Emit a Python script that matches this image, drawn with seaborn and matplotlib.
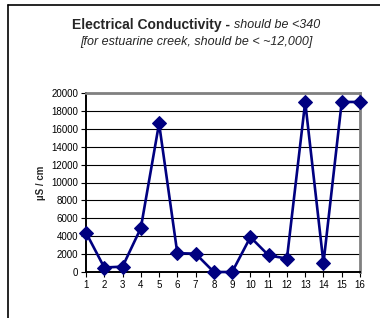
import matplotlib
matplotlib.use("Agg")
import matplotlib.pyplot as plt
import seaborn as sns
import pandas as pd
from matplotlib.lines import Line2D

sites = [1, 2, 3, 4, 5, 6, 7, 8, 9, 10, 11, 12, 13, 14, 15, 16]
conductivity = [4400, 500, 600, 4900, 16600, 2100, 2050, 0, 0, 3900, 1850, 1500, 19000, 1000, 19000, 19000]
y_ticks = [0, 2000, 4000, 6000, 8000, 10000, 12000, 14000, 16000, 18000, 20000]

df = pd.DataFrame({"site": sites, "ec": conductivity})

sns.set_style("white")
plt.rcParams["font.family"] = ["Liberation Sans", "DejaVu Sans"]

W, H = 380, 318
fig = plt.figure(figsize=(W / 100, H / 100), dpi=100)
ax = fig.add_axes([86 / W, (H - 272) / H, (360 - 86) / W, (272 - 93) / H])

sns.lineplot(data=df, x="site", y="ec", ax=ax, color="#000080", linewidth=1.9,
             marker="D", markersize=7, markeredgecolor="#000080",
             markerfacecolor="#000080", clip_on=False, zorder=5)

ax.set_xlim(1, 16)
ax.set_ylim(0, 20000)
ax.set_xticks(sites)
ax.set_xticklabels([str(s) for s in sites])
ax.set_yticks(y_ticks)
ax.set_yticklabels([str(v) for v in y_ticks])
ax.yaxis.grid(True, color="black", linewidth=0.8)
ax.set_axisbelow(True)
ax.tick_params(axis="both", which="both", direction="out", length=3.5, width=0.8,
               labelsize=7, colors="black", pad=2, left=True, bottom=True)
for side in ("left", "bottom"):
    ax.spines[side].set_color("black")
    ax.spines[side].set_linewidth(1.4)
for side in ("top", "right"):
    ax.spines[side].set_visible(True)
    ax.spines[side].set_color("#808080")
    ax.spines[side].set_linewidth(2.0)
ax.set_xlabel("")
ax.set_ylabel("µS / cm", fontsize=7, fontweight="bold", labelpad=4)

# outer frame (left and top edges)
fig.add_artist(Line2D([8 / W, 8 / W], [0, 1 - 5 / H], transform=fig.transFigure, color="black", linewidth=1.2))
fig.add_artist(Line2D([8 / W, 1], [1 - 5 / H, 1 - 5 / H], transform=fig.transFigure, color="black", linewidth=1.2))

# title line 1: bold part + italic part, centered together
y1 = 1 - 25.5 / H
t1 = fig.text(0, y1, "Electrical Conductivity - ", fontsize=10, fontweight="bold", va="center", ha="left")
t2 = fig.text(0, y1, "should be <340", fontsize=9, fontstyle="italic", va="center", ha="left")
fig.canvas.draw()
r = fig.canvas.get_renderer()
w1 = t1.get_window_extent(r).width / W
w2 = t2.get_window_extent(r).width / W
x0 = 196.5 / W - (w1 + w2) / 2
t1.set_x(x0)
t2.set_x(x0 + w1)

fig.text(196 / W, 1 - 42 / H, "[for estuarine creek, should be < ~12,000]", fontsize=9,
         fontstyle="italic", va="center", ha="center")

fig.savefig("out.png", dpi=100)
